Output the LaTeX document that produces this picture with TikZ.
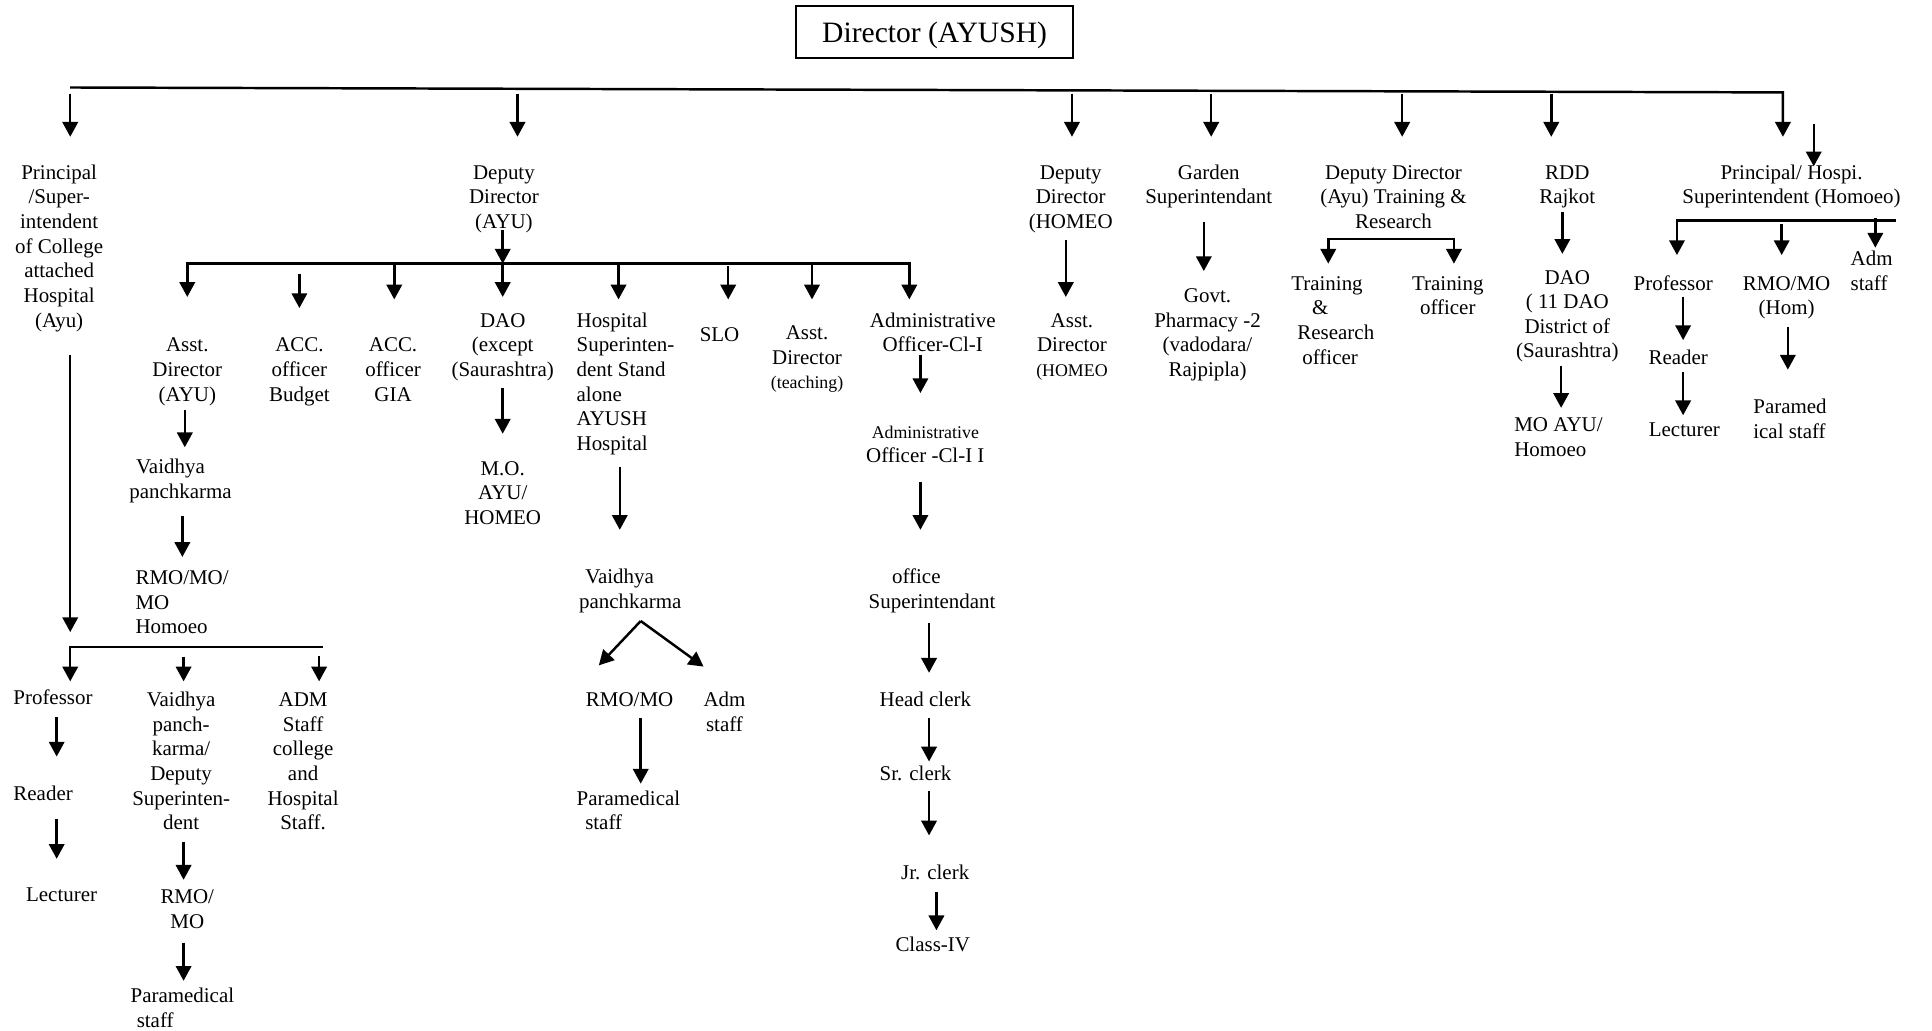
\documentclass[tikz,border=0pt]{standalone}
\usepackage{fontspec}
\setmainfont{Liberation Serif}
\usetikzlibrary{arrows.meta,calc}
\tikzset{
  tx/.style={font=\fontsize{17}{20}\selectfont, inner sep=0pt, outer sep=0pt, align=center, anchor=north, execute at begin node=\strut, execute at end node=\strut},
  txl/.style={tx, align=left, anchor=north west},
  bus/.style={line width=2pt},
  arr/.style={line width=2pt, -{Triangle[length=12pt,width=12.5pt]}},
  arrtwo/.style={line width=2pt, {Triangle[length=12pt,width=12.5pt]}-{Triangle[length=12pt,width=12.5pt]}},
  topbox/.style={draw, line width=1.5pt, minimum width=225pt, minimum height=42pt, inner sep=0pt, text depth=0pt, font=\fontsize{24}{28}\selectfont}
}
\newcommand\sm{\fontsize{14.5}{18}\selectfont}
\newcommand\drop[5]{\draw[arr,shorten <=#4pt,shorten >=#5pt] (#1 -| #3,0) -- (#2 -| #3,0);}
\begin{document}
\begin{tikzpicture}[x=1pt,y=-1pt]
\useasboundingbox (0,0) rectangle (1568,836);
\fill[white] (0,0) rectangle (1568,836);
% top
\node[topbox] (dir) at (758.5,26) {Director (AYUSH)};
\node[tx] (p1) at (48,131.5) {\strut Principal\\/Super-\\intendent\\of College\\attached\\Hospital\\(Ayu)\strut};
\node[tx] (dda) at (409,131.5) {\strut Deputy\\Director\\(AYU)\strut};
\node[tx] (ddh) at (869,131.5) {\strut Deputy\\Director\\(HOMEO\strut};
\node[tx] (gs) at (981,131.5) {\strut Garden\\Superintendant\strut};
\node[tx] (ddt) at (1131,131.5) {\strut Deputy Director\\(Ayu) Training \&\\Research\strut};
\node[tx] (rdd) at (1272,131.5) {\strut RDD\\Rajkot\strut};
\node[tx] (ph) at (1454,131.5) {\strut Principal/ Hospi.\\Superintendent (Homoeo)\strut};
% second level under Deputy Director (AYU)
\node[tx] (ad) at (152,271.5) {\strut Asst.\\Director\\(AYU)\strut};
\node[tx] (accb) at (243,271.5) {\strut ACC.\\officer\\Budget\strut};
\node[tx] (accg) at (319,271.5) {\strut ACC.\\officer\\GIA\strut};
\node[tx] (dao) at (408,251.5) {\strut DAO\\(except\\(Saurashtra)\strut};
\node[txl] (hs) at (468,251.5) {\strut Hospital\\Superinten-\\dent Stand\\alone\\AYUSH\\Hospital\strut};
\node[tx] (slo) at (584,263.5) {SLO};
\node[tx] (adt) at (655,261.5) {\strut Asst.\\Director\\{\sm(teaching)}\strut};
\node[tx] (ao1) at (757,251.5) {\strut Administrative\\Officer-Cl-I\strut};
\node[txl] (vp1) at (105,370.5) {\strut\hspace*{5.5pt}Vaidhya\\panchkarma\strut};
\node[txl] (rmo1) at (110,460.5) {\strut RMO/MO/\\MO\\Homoeo\strut};
\node[tx] (mo) at (408,371.5) {\strut M.O.\\AYU/\\HOMEO\strut};
\node[txl] (vp2) at (470,459.5) {\strut\hspace*{5pt}Vaidhya\\panchkarma\strut};
\node[tx] (rmo2) at (511,559.5) {RMO/MO};
\node[tx] (adm2) at (588,559.5) {\strut Adm\\staff\strut};
\node[txl] (pm2) at (468,639.5) {\strut Paramedical\\\hspace*{7pt}staff\strut};
\node[tx] (ao2) at (751,341.5) {\strut{\sm Administrative}\\Officer -Cl-I I\strut};
\node[txl] (os) at (705,459.5) {\strut\hspace*{19pt}office\\Superintendant\strut};
\node[tx] (hc) at (751,559.5) {Head clerk};
\node[tx] (src) at (743,619.5) {Sr. clerk};
\node[tx] (jrc) at (759,699.5) {Jr. clerk};
\node[tx] (cfour) at (757,758.5) {Class-IV};
% under Principal (Ayu)
\node[tx] (prof1) at (43,557.5) {Professor};
\node[tx] (rdr1) at (35,635.5) {Reader};
\node[tx] (lec1) at (50,717.5) {Lecturer};
\node[tx] (vpd) at (147,559.5) {\strut Vaidhya\\panch-\\karma/\\Deputy\\Superinten-\\dent\strut};
\node[tx] (rmo3) at (152,719.5) {\strut RMO/\\MO\strut};
\node[txl] (pm3) at (106,799.5) {\strut Paramedical\\\hspace*{5pt}staff\strut};
\node[tx] (adms) at (246,559.5) {\strut ADM\\Staff\\college\\and\\Hospital\\Staff.\strut};
% right branches
\node[tx] (adh) at (870,251.5) {\strut Asst.\\Director\\{\sm(HOMEO}\strut};
\node[tx] (gp) at (980,231.5) {\strut Govt.\\Pharmacy -2\\(vadodara/\\Rajpipla)\strut};
\node[txl] (tro) at (1048,221.5) {\strut Training\\\hspace*{17pt}\&\\\hspace*{5pt}Research\\\hspace*{9pt}officer\strut};
\node[tx] (tof) at (1175,221.5) {\strut Training\\officer\strut};
\node[tx] (dao2) at (1272,216.5) {\strut DAO\\( 11 DAO\\District of\\(Saurashtra)\strut};
\node[txl] (moh) at (1229,336.5) {\strut MO AYU/\\Homoeo\strut};
\node[tx] (prof2) at (1358,221.5) {Professor};
\node[tx] (rdr2) at (1362,281.5) {Reader};
\node[tx] (lec2) at (1367,340.5) {Lecturer};
\node[tx] (rmoh) at (1450,221.5) {\strut RMO/MO\\(Hom)\strut};
\node[txl] (pmh) at (1423,321.5) {\strut Paramed\\ical staff\strut};
\node[txl] (admh) at (1502,201.5) {\strut Adm\\staff\strut};

% ---- connectors ----
\coordinate (busL) at (57,71);
\coordinate (busR) at (1447,75);
\drop{busL}{p1.north}{57}{5}{20.5}
\drop{busL}{dda.north}{420}{5}{20.5}
\drop{busL}{ddh.north}{870}{5}{20.5}
\drop{busL}{gs.north}{983}{5}{20.5}
\drop{busL}{ddt.north}{1138}{5}{20.5}
\drop{busL}{rdd.north}{1259}{5}{20.5}
\draw[arr,shorten >=20.5pt] (busL) -- (busR) -- (ph.north -| busR);
\coordinate (xa) at (1472,101);
\draw[arr,shorten >=-3.5pt] (xa) -- (xa |- ph.north);

% Deputy Director (AYU)
\coordinate (b2L) at (152,214);
\coordinate (b2R) at (738,214);
\drop{dda.south}{b2L}{408}{-4.5}{0}
\draw[arrtwo,shorten <=30.5pt,shorten >=8.5pt] (ad.north -| b2L) -- (b2L) -- (b2R) -- (ao1.north -| b2R);
\drop{b2L}{accb.north}{243}{8}{21.5}
\drop{b2L}{accg.north}{320}{0}{28.5}
\drop{b2L}{dao.north}{408}{0}{10.5}
\drop{b2L}{hs.north}{502}{0}{8.5}
\drop{b2L}{slo.north}{591}{2}{20.5}
\drop{b2L}{adt.north}{659}{0}{18.5}
\drop{ad.south}{vp1.north}{150}{1.5}{7.5}
\drop{vp1.south}{rmo1.north}{148}{8.5}{8.5}
\drop{dao.south}{mo.north}{408}{3.5}{19.5}
\drop{hs.south}{vp2.north}{503}{7.5}{29.5}
\coordinate (apx) at ($(vp2.south -| 520,0)+(0,4.5)$);
\coordinate (tipL) at ($(rmo2.north)+(-25,-19.5)$);
\coordinate (tipR) at ($(adm2.north)+(-17,-18.5)$);
\draw[arr] (apx) -- (tipL);
\draw[arr] (apx) -- (tipR);
\drop{rmo2.south}{pm2.north}{520}{3.5}{3.5}
\drop{ao1.south}{ao2.north}{747}{-3.5}{22.5}
\drop{ao2.south}{os.north}{747}{9.5}{29.5}
\drop{os.south}{hc.north}{754}{6.5}{13.5}
\drop{hc.south}{src.north}{754}{3.5}{1.5}
\drop{src.south}{jrc.north}{754}{2.5}{21.5}
\drop{jrc.south}{cfour.north}{760}{4.5}{3.5}

% Principal (Ayu)
\coordinate (b3L) at (57,525);
\coordinate (b3R) at (262,525);
\drop{p1.south}{b3L}{57}{16.5}{12}
\draw[arr,shorten >=4.5pt] (b3R) -- (b3L) -- (prof1.north -| b3L);
\drop{b3L}{vpd.north}{149}{8}{6.5}
\drop{b3L}{adms.north}{259}{7}{6.5}
\drop{prof1.south}{rdr1.north}{46}{4.5}{21.5}
\drop{rdr1.south}{lec1.north}{46}{9.5}{20.5}
\drop{vpd.south}{rmo3.north}{149}{3.5}{5.5}
\drop{rmo3.south}{pm3.north}{149}{5.5}{3.5}

% right side
\drop{ddh.south}{adh.north}{865}{3.5}{10.5}
\drop{gs.south}{gp.north}{977}{8.5}{11.5}
\coordinate (brL) at (1078,194);
\coordinate (brR) at (1180,194);
\draw[arrtwo,shorten <=7.5pt,shorten >=7.5pt] (tro.north -| brL) -- (brL) -- (brR) -- (tof.north -| brR);
\drop{rdd.south}{dao2.north}{1268}{0.5}{10.5}
\drop{dao2.south}{moh.north}{1267}{0.5}{5.5}
\coordinate (b4L) at (1361,179);
\coordinate (b4R) at (1539,179);
\draw[arr,shorten >=14.5pt] (b4R) -- (b4L) -- (prof2.north -| b4L);
\drop{b4L}{rmoh.north}{1446}{3}{14.5}
\drop{b4L}{admh.north}{1522}{-2}{0.5}
\drop{prof2.south}{rdr2.north}{1366}{-0.5}{5.5}
\drop{rdr2.south}{lec2.north}{1366}{0.5}{3.5}
\drop{rmoh.south}{pmh.north}{1451}{3.5}{21.5}
\end{tikzpicture}
\end{document}
